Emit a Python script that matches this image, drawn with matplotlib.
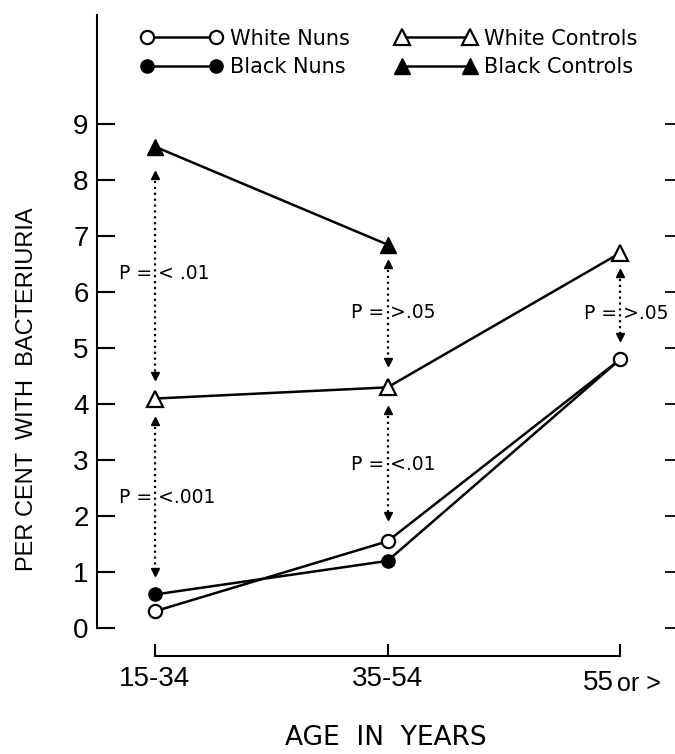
import numpy as np
import matplotlib.pyplot as plt
from matplotlib.transforms import blended_transform_factory

ages = ["15-34", "35-54", "55 or >"]
white_nuns = [0.3, 1.55, 4.8]
black_nuns = [0.6, 1.2, 4.8]
white_controls = [4.1, 4.3, 6.7]
black_controls = [8.6, 6.85]

# dotted double arrows: (age index, top, bottom) and their p-value labels
arrows = [(0, 8.1, 4.5), (0, 3.7, 1.0), (1, 6.5, 4.75), (1, 3.9, 2.0), (2, 6.35, 5.2)]
p_labels = [(0, 6.33, "P = < .01"), (0, 2.34, "P = <.001"), (1, 5.63, "P = >.05"),
            (1, 2.92, "P = <.01"), (2, 5.62, "P = >.05")]
p_left = -0.155  # label start relative to the arrow

plt.rcParams['font.family'] = ['Liberation Sans', 'DejaVu Sans']
wide = ['DejaVu Sans']

fig = plt.figure(figsize=(6.75, 7.54), dpi=100)
ax = fig.add_axes([0.1437, 0.1247, 1 - 0.1437, 0.980 - 0.1247])

x = np.arange(len(ages))
lw = 1.8
wn, = ax.plot(x, white_nuns, '-o', color='k', mfc='white', mec='k', mew=1.6, ms=9.5, lw=lw,
              label='White Nuns', zorder=4)
bn, = ax.plot(x, black_nuns, '-o', color='k', ms=9.5, lw=lw, label='Black Nuns', zorder=3)
wc, = ax.plot(x, white_controls, '-^', color='k', mfc='white', mec='k', mew=1.6, ms=12, lw=lw,
              label='White Controls', zorder=3)
bc, = ax.plot(x[:len(black_controls)], black_controls, '-^', color='k', ms=12, lw=lw,
              label='Black Controls', zorder=3)

for i, top, bot in arrows:
    ax.plot([i, i], [top, bot], ':', color='k', lw=1.6)
    ax.plot(i, top, marker='^', color='k', ms=5.5)
    ax.plot(i, bot, marker='v', color='k', ms=5.5)

for i, y, s in p_labels:
    ax.text(i + p_left, y, s, fontsize=13.5, va='center', ha='left', family=wide)

ax.set_xlim(-0.249, 2.236)
ax.set_ylim(-0.57, 10.95)

ax.spines['top'].set_visible(False)
ax.spines['right'].set_visible(False)
ax.spines['left'].set_bounds(0, 10.95)
ax.spines['left'].set_linewidth(1.5)
ax.spines['bottom'].set_position(('data', -0.5))
ax.spines['bottom'].set_bounds(0, 2)
ax.spines['bottom'].set_linewidth(1.5)

ax.set_yticks(range(10))
ax.set_xticks(x)
ax.set_xticklabels(ages[:2] + [""], fontsize=20)
ax.tick_params(axis='y', direction='in', length=13, width=1.5, pad=6, labelsize=20)
ax.tick_params(axis='x', direction='in', length=9, width=1.5, pad=7)

# last age group: "55" large with a smaller "or >"
tr = blended_transform_factory(ax.transData, ax.transAxes)
ax.text(1.972, -0.036, "55", transform=tr, fontsize=20, ha='right', va='center')
ax.text(1.985, -0.038, "or >", transform=tr, fontsize=18, ha='left', va='center')

# short ticks on the right edge
ax2 = ax.twinx()
ax2.set_ylim(ax.get_ylim())
ax2.set_yticks(range(10))
ax2.set_yticklabels([])
ax2.tick_params(axis='y', direction='in', length=7, width=1.3)
for sp in ax2.spines.values():
    sp.set_visible(False)

ax.set_ylabel("PER CENT  WITH  BACTERIURIA", fontsize=17)
ax.yaxis.set_label_coords(-0.102, 0.42)
ax.set_xlabel("AGE  IN  YEARS", fontsize=19, family=wide)
ax.xaxis.set_label_coords(0.5, -0.121)
ax.xaxis.label.set_va('center')

ax.legend(handles=[wn, bn, wc, bc], ncol=2, numpoints=2, frameon=False,
          prop={'family': wide, 'size': 15}, handlelength=3.9,
          loc='upper left', bbox_to_anchor=(0.044, 1.008), columnspacing=2.2,
          labelspacing=0.42, handletextpad=0.35)

fig.savefig("out.png", dpi=100)
